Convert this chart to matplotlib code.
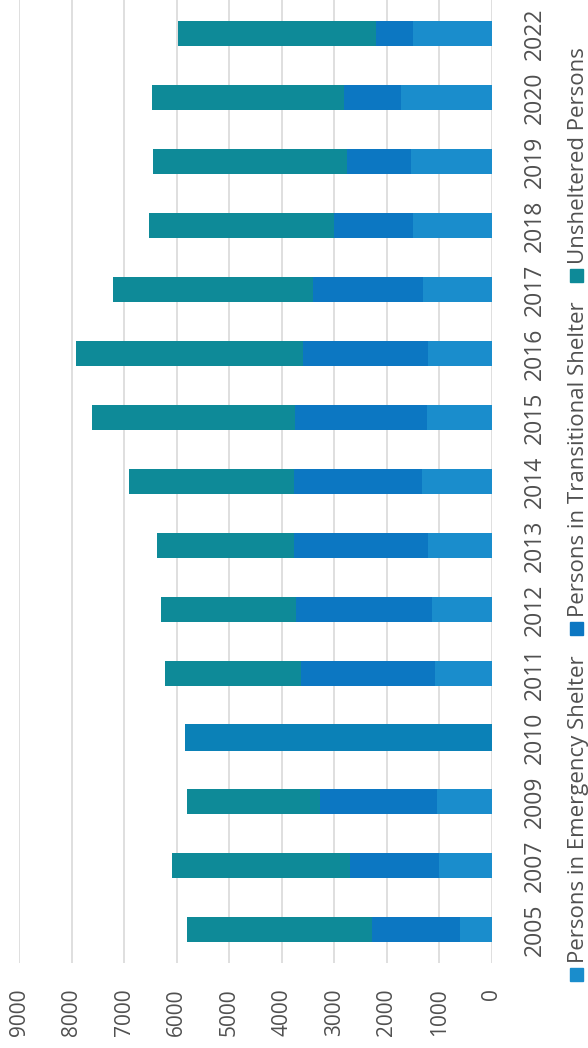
import matplotlib.pyplot as plt
from matplotlib.patches import Rectangle

plt.rcParams['font.family'] = ['Open Sans', 'DejaVu Sans']

# Point-in-time counts by year
years = ['2005', '2007', '2009', '2010', '2011', '2012', '2013', '2014',
         '2015', '2016', '2017', '2018', '2019', '2020', '2022']
emergency = [610, 1000, 1040, 0, 1090, 1140, 1210, 1330,
             1240, 1210, 1310, 1500, 1550, 1740, 1500]
transitional = [1680, 1710, 2230, 0, 2540, 2580, 2560, 2440,
                2510, 2390, 2100, 1500, 1210, 1080, 710]
unsheltered = [3510, 3370, 2530, 0, 2590, 2570, 2610, 3130,
               3860, 4310, 3810, 3520, 3690, 3640, 3770]
# 2010 only has a total count, no breakdown
total_only = [0, 0, 0, 5850, 0, 0, 0, 0, 0, 0, 0, 0, 0, 0, 0]

series_names = ['Persons in Emergency Shelter',
                'Persons in Transitional Shelter',
                'Unsheltered Persons']
colors = ['#1a8dcc', '#0c77c2', '#0e8a98']
total_color = '#0b81b7'
text_color = '#505050'

W, H = 588, 1048
fig = plt.figure(figsize=(W / 100, H / 100), dpi=100)
ax = fig.add_axes([19 / W, 85 / H, 473 / W, 963 / H])

pos = list(range(len(years)))
left = [0] * len(years)
for vals, col in zip([emergency, transitional, unsheltered], colors):
    ax.barh(pos, vals, left=left, height=0.39, color=col, zorder=2)
    left = [a + b for a, b in zip(left, vals)]
ax.barh(pos, total_only, height=0.42, color=total_color, zorder=2)

ax.set_xlim(9000, 0)
ax.set_ylim(-0.52, 14.53)
ax.set_xticks(range(0, 9001, 1000))
ax.set_xticklabels([str(v) for v in range(0, 9001, 1000)], rotation=90,
                   fontsize=15, color=text_color)
ax.set_yticks(pos)
ax.set_yticklabels(years, rotation=90, fontsize=16.5, color=text_color, va='center')
ax.yaxis.tick_right()
ax.tick_params(axis='x', length=0, pad=18)
ax.tick_params(axis='y', length=0, pad=22)
ax.grid(axis='x', color='#d9d9d9', lw=1.2, zorder=0)
ax.set_axisbelow(True)
for s in ax.spines.values():
    s.set_visible(False)

# legend drawn as rotated text running up the right edge
renderer = fig.canvas.get_renderer()
x_base = 584
box = 13
y = 67
for name, col in zip(series_names, colors):
    fig.patches.append(Rectangle(((x_base - box - 1) / W, y / H), box / W, box / H,
                                 color=col, transform=fig.transFigure, figure=fig))
    y += box + 5
    t = fig.text(x_base / W, y / H, name, rotation=90, rotation_mode='anchor',
                 ha='left', va='baseline', fontsize=16, color=text_color)
    y += t.get_window_extent(renderer).height + 20

fig.savefig('out.png', dpi=100, facecolor='white')
